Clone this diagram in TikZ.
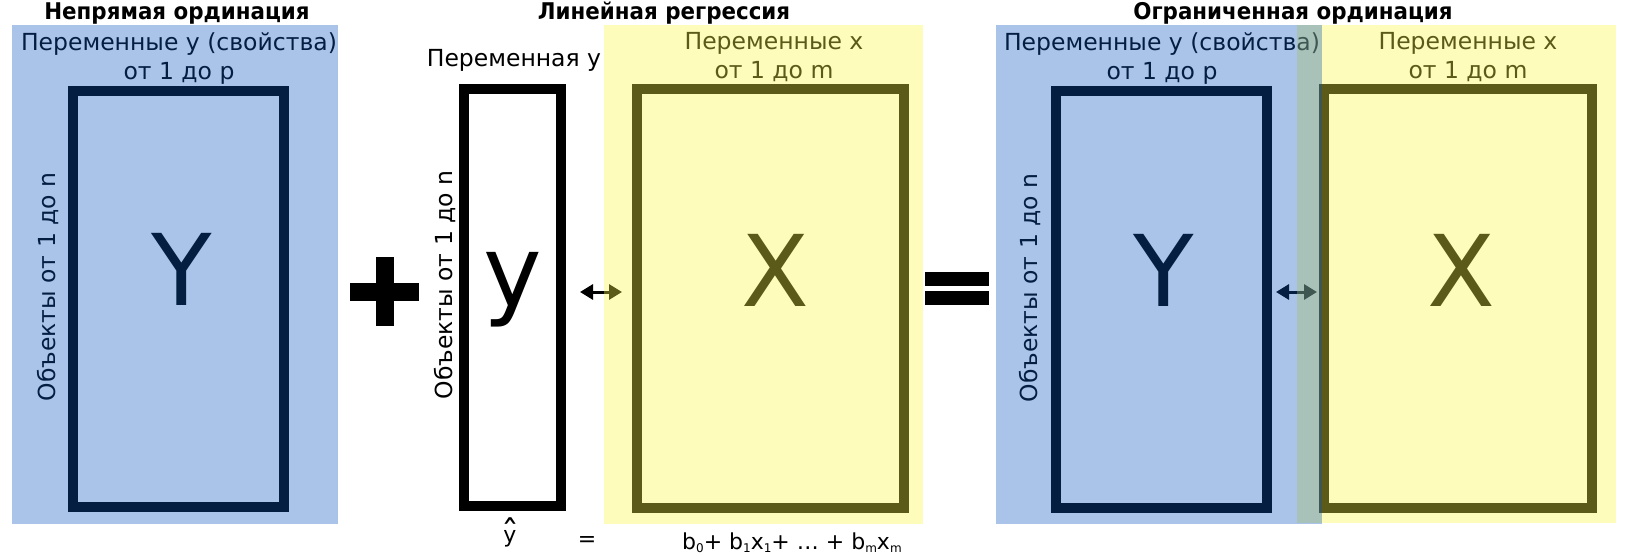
\documentclass[tikz,border=0pt]{standalone}
\usepackage{fontspec}
\usepackage{graphicx}
\setmainfont{DejaVu Sans}
\usetikzlibrary{positioning}
\usetikzlibrary{arrows.meta}
\definecolor{ylay}{RGB}{252,247,66}
\definecolor{blay}{RGB}{9,86,189}
\newcommand{\lowidx}[1]{\raisebox{-3pt}{\fontsize{12}{12}\selectfont #1}}
\newcommand{\ttltext}[1]{\scalebox{0.93}[1]{#1}}
\tikzset{
 frame/.style={draw=black,line width=10pt},
 ylayer/.style={fill=ylay,fill opacity=0.365},
 blayer/.style={fill=blay,fill opacity=0.35},
 lbl/.style={font=\fontsize{23.5}{29}\selectfont,align=center,inner sep=0pt,anchor=north},
 ttl/.style={font=\fontsize{23}{26}\selectfont\bfseries,inner sep=0pt,anchor=base},
 big/.style={font=\fontsize{99}{100}\selectfont,inner sep=0pt,anchor=base},
 side/.style={font=\fontsize{23.5}{26}\selectfont,inner sep=0pt,rotate=90,anchor=base},
 dbl/.style={{Triangle[length=13pt,width=15pt]}-{Triangle[length=13pt,width=15pt]},line width=3pt}
}
\begin{document}
\begin{tikzpicture}[x=1pt,y=-1pt]
 \useasboundingbox (0,0) rectangle (1628,556);
 \node[ttl] (ttlA) at (177,20) {\ttltext{Непрямая ординация}};
 \node[ttl] (ttlB) at (664,20) {\ttltext{Линейная регрессия}};
 \node[ttl] (ttlC) at (1293,20) {\ttltext{Ограниченная ординация}};
 \draw[frame] (73,91) rectangle (284,507);
 \draw[frame] (464,89) rectangle (561,506);
 \draw[frame] (637,89) rectangle (904,508);
 \draw[frame] (1056,91) rectangle (1267,508);
 \draw[frame] (1324,89) rectangle (1592,508);
 \node[big] (bigYa) at (182,305) {Y};
 \node[big] (bigy) at (513,306) {y};
 \node[big] (bigXa) at (775,306) {X};
 \node[big] (bigYb) at (1164,306) {Y};
 \node[big] (bigXb) at (1461,306) {X};
 \node[lbl] (varYa) at (179,32.5) {Переменные у (свойства)\\от 1 до р};
 \node[lbl] (varXa) at (774,32.5) {Переменные x\\от 1 до m};
 \node[lbl] (varYb) at (1162,32.5) {Переменные у (свойства)\\от 1 до р};
 \node[lbl] (varXb) at (1468,32.5) {Переменные x\\от 1 до m};
 \node[font=\fontsize{23.5}{26}\selectfont,inner sep=0pt,anchor=base] (vary) at (514,67) {Переменная у};
 \node[side] (objA) at (55,287) {Объекты от 1 до n};
 \node[side] (objB) at (452,285) {Объекты от 1 до n};
 \node[side] (objC) at (1037,288) {Объекты от 1 до n};
 \coordinate (arrAl) at (580,292);
 \coordinate (arrAr) at (622,292);
 \coordinate (arrBl) at (1276,292);
 \coordinate (arrBr) at (1317,292);
 \draw[dbl] (arrAl) -- (arrAr);
 \draw[dbl] (arrBl) -- (arrBr);
 \fill (350,282.5) rectangle (419,300.5);
 \fill (375.5,257) rectangle (393.5,326);
 \fill (925,272) rectangle (989,286);
 \fill (925,291) rectangle (989,305);
 \node[font=\fontsize{22}{22}\selectfont,inner sep=0pt,anchor=base] (yhat) at (510,542) {\ooalign{y\cr\hidewidth\raisebox{-4pt}{\fontsize{36}{36}\selectfont\symbol{"02C6}}\hidewidth\cr}};
 \node[font=\fontsize{22}{24}\selectfont,inner sep=0pt,anchor=base] (eqs) at (587,546) {=};
 \node[font=\fontsize{22}{24}\selectfont,inner sep=0pt,anchor=base west] (form) at (682,549) {b\lowidx{0}+ b\lowidx{1}x\lowidx{1}+ … + b\lowidx{m}x\lowidx{m}};
 \fill[ylayer] (604,25) rectangle (923,524);
 \fill[ylayer] (1297,25) rectangle (1616,523);
 \fill[blayer] (12,25) rectangle (338,524);
 \fill[blayer] (996,25) rectangle (1322,524);
\end{tikzpicture}
\end{document}
